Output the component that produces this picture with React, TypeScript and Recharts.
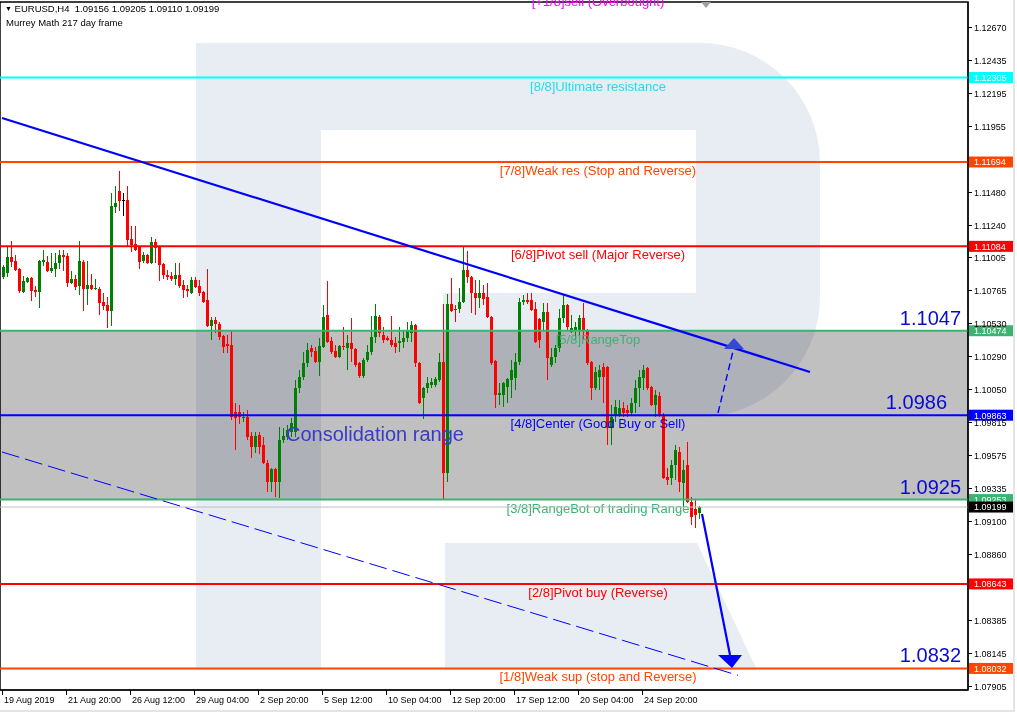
import React from 'react';
import {
  ComposedChart,
  Bar,
  XAxis,
  YAxis,
  ReferenceLine,
  ReferenceArea,
  ReferenceDot,
} from 'recharts';

// ---------- data ----------
const SYMBOL = 'EURUSD,H4';
const INDICATOR = 'Murrey Math 217 day frame';

const OPEN = [
  1.10862, 1.10891, 1.11006, 1.10978, 1.1092, 1.10754, 1.10826, 1.10855, 1.10768, 1.10754,
  1.10971, 1.10971, 1.10906, 1.1092, 1.10963, 1.11021, 1.11014, 1.10819, 1.10848, 1.10797,
  1.10971, 1.10775, 1.10804, 1.10775, 1.10775, 1.10682, 1.1066, 1.10616, 1.11368, 1.11484,
  1.11419, 1.11419, 1.11137, 1.11101, 1.11079, 1.10978, 1.11021, 1.10963, 1.11115, 1.11079,
  1.10956, 1.10877, 1.1087, 1.10848, 1.10877, 1.10804, 1.10775, 1.10746, 1.10841, 1.10797,
  1.10754, 1.10696, 1.10508, 1.10551, 1.10522, 1.10436, 1.10378, 1.10371, 1.09886, 1.09886,
  1.09843, 1.0985, 1.09713, 1.09633, 1.0972, 1.09647, 1.09518, 1.0938, 1.09474, 1.0938,
  1.09684, 1.09705, 1.09742, 1.09742, 1.1006, 1.10139, 1.10241, 1.10349, 1.10327, 1.10248,
  1.10356, 1.10587, 1.104, 1.10327, 1.10284, 1.10363, 1.10349, 1.10385, 1.10342, 1.10241,
  1.10147, 1.10262, 1.1032, 1.10429, 1.10573, 1.10443, 1.10421, 1.10407, 1.10385, 1.10385,
  1.10392, 1.10421, 1.10458, 1.10515, 1.10241, 1.09987, 1.1006, 1.10082, 1.10082, 1.10118,
  1.10248, 1.09445, 1.10667, 1.10631, 1.10631, 1.10682, 1.10913, 1.10862, 1.10746, 1.10711,
  1.10746, 1.10718, 1.10573, 1.10255, 1.10009, 1.10009, 1.10067, 1.10118, 1.10132, 1.10248,
  1.10682, 1.10696, 1.10696, 1.10631, 1.10558, 1.10537, 1.10609, 1.10226, 1.10284, 1.10349,
  1.10566, 1.1066, 1.10465, 1.10479, 1.10479, 1.10566, 1.10479, 1.10248, 1.1006, 1.10139,
  1.10212, 1.10212, 1.09771, 1.09865, 1.09865, 1.09915, 1.09901, 1.09879, 1.09951, 1.1006,
  1.10132, 1.10204, 1.10067, 1.09937, 1.10002, 1.09865, 1.09416, 1.09409, 1.09503, 1.09597,
  1.09373, 1.09503, 1.09236, 1.09185, 1.09156,
];
const HIGH = [
  1.10949, 1.11079, 1.11123, 1.11021, 1.10927, 1.1087, 1.10862, 1.10862, 1.10797, 1.10985,
  1.11057, 1.11014, 1.11036, 1.11036, 1.11057, 1.11057, 1.11036, 1.10906, 1.10877, 1.11123,
  1.10985, 1.10978, 1.10884, 1.10848, 1.1079, 1.10746, 1.10718, 1.1147, 1.1152, 1.11629,
  1.1147, 1.1152, 1.11231, 1.11231, 1.11087, 1.11043, 1.11028, 1.11152, 1.11137, 1.11087,
  1.10963, 1.10913, 1.10898, 1.10963, 1.10963, 1.10841, 1.10804, 1.10862, 1.10862, 1.10841,
  1.10761, 1.1092, 1.10573, 1.10573, 1.10537, 1.10443, 1.10443, 1.10479, 1.09951, 1.09937,
  1.09886, 1.09901, 1.09742, 1.09742, 1.09742, 1.09705, 1.09539, 1.09482, 1.09482, 1.09778,
  1.09771, 1.09792, 1.09843, 1.10118, 1.1019, 1.1032, 1.10385, 1.10371, 1.10356, 1.10421,
  1.1066, 1.10834, 1.10429, 1.10371, 1.10371, 1.10501, 1.10443, 1.10566, 1.10349, 1.10248,
  1.10277, 1.10371, 1.1058, 1.10667, 1.10587, 1.10501, 1.10436, 1.1058, 1.10429, 1.10501,
  1.10479, 1.10537, 1.10544, 1.10522, 1.10248, 1.10067, 1.10139, 1.10132, 1.10139, 1.10313,
  1.10667, 1.10739, 1.10855, 1.1066, 1.10783, 1.11079, 1.1105, 1.1087, 1.10841, 1.10841,
  1.10804, 1.10819, 1.1058, 1.10262, 1.10096, 1.10103, 1.10132, 1.10262, 1.10313, 1.10711,
  1.10732, 1.10746, 1.10746, 1.10682, 1.10566, 1.10674, 1.10674, 1.10349, 1.10371, 1.10631,
  1.10732, 1.10667, 1.10587, 1.10537, 1.10587, 1.10674, 1.10486, 1.10255, 1.10212, 1.10226,
  1.10241, 1.10219, 1.09937, 1.09973, 1.09973, 1.09958, 1.09937, 1.09987, 1.10118, 1.1019,
  1.10226, 1.10212, 1.10074, 1.10045, 1.10031, 1.09879, 1.09482, 1.09539, 1.09647, 1.09633,
  1.09539, 1.09669, 1.09272, 1.0925, 1.09205,
];
const LOW = [
  1.10848, 1.10862, 1.10934, 1.10906, 1.10746, 1.10746, 1.10819, 1.10689, 1.10718, 1.10638,
  1.10942, 1.10898, 1.10891, 1.10862, 1.1092, 1.10906, 1.1079, 1.10812, 1.10768, 1.10732,
  1.10616, 1.1066, 1.10768, 1.10768, 1.10587, 1.10624, 1.10494, 1.10508, 1.11325, 1.11339,
  1.11303, 1.11087, 1.11043, 1.1105, 1.1092, 1.10963, 1.10956, 1.10956, 1.10963, 1.10834,
  1.10848, 1.10841, 1.10834, 1.10804, 1.10783, 1.10711, 1.10718, 1.10739, 1.10783, 1.10725,
  1.10674, 1.10501, 1.10407, 1.10458, 1.10407, 1.10313, 1.10313, 1.09828, 1.09611, 1.098,
  1.09814, 1.09684, 1.09554, 1.0959, 1.09583, 1.0951, 1.09308, 1.09308, 1.09272, 1.09264,
  1.09662, 1.09684, 1.09705, 1.09705, 1.10024, 1.10118, 1.10212, 1.10284, 1.10241, 1.10147,
  1.10349, 1.10385, 1.10305, 1.10277, 1.10277, 1.10334, 1.1019, 1.10248, 1.10212, 1.10132,
  1.10132, 1.10248, 1.10298, 1.10385, 1.10429, 1.10385, 1.104, 1.10356, 1.10313, 1.1032,
  1.10349, 1.10392, 1.10392, 1.10212, 1.09944, 1.09836, 1.10024, 1.1006, 1.10067, 1.10103,
  1.0925, 1.0938, 1.10609, 1.10537, 1.10602, 1.10674, 1.10819, 1.10602, 1.10587, 1.10638,
  1.1066, 1.10566, 1.10226, 1.09915, 1.09937, 1.09922, 1.09951, 1.09987, 1.10045, 1.10226,
  1.1066, 1.10667, 1.10616, 1.10385, 1.10349, 1.10479, 1.10118, 1.10212, 1.10241, 1.1032,
  1.1053, 1.10479, 1.10458, 1.10407, 1.10356, 1.10407, 1.10226, 1.09973, 1.10045, 1.10045,
  1.09951, 1.09647, 1.09647, 1.09814, 1.0985, 1.0985, 1.0985, 1.09865, 1.09879, 1.09922,
  1.10045, 1.10045, 1.0993, 1.0985, 1.0985, 1.09402, 1.09358, 1.09358, 1.09395, 1.09308,
  1.09199, 1.09228, 1.09069, 1.09048, 1.0911,
];
const CLOSE = [
  1.10934, 1.11006, 1.10971, 1.10913, 1.10761, 1.10834, 1.10855, 1.10761, 1.10754, 1.10978,
  1.10985, 1.10906, 1.10927, 1.10963, 1.11021, 1.11006, 1.10819, 1.10848, 1.1079, 1.10978,
  1.10775, 1.10804, 1.10775, 1.10783, 1.10674, 1.10653, 1.10616, 1.11376, 1.11397, 1.11412,
  1.11419, 1.1113, 1.11094, 1.11057, 1.10971, 1.11021, 1.10963, 1.11115, 1.11072, 1.10949,
  1.10877, 1.10862, 1.10848, 1.10877, 1.10797, 1.10768, 1.10761, 1.10841, 1.1079, 1.10746,
  1.10682, 1.10508, 1.10551, 1.10522, 1.10429, 1.10356, 1.10363, 1.0985, 1.09843, 1.0985,
  1.0985, 1.09705, 1.09633, 1.09713, 1.09633, 1.09518, 1.0938, 1.09474, 1.0938, 1.09684,
  1.09713, 1.09756, 1.09807, 1.1006, 1.10139, 1.10241, 1.10334, 1.1032, 1.10248, 1.10363,
  1.10573, 1.10392, 1.1032, 1.10284, 1.10363, 1.10356, 1.10385, 1.10342, 1.10226, 1.10147,
  1.10262, 1.1032, 1.10429, 1.1058, 1.10458, 1.10407, 1.10407, 1.10371, 1.10356, 1.104,
  1.10421, 1.10479, 1.10515, 1.10241, 1.09951, 1.1006, 1.10096, 1.10103, 1.10125, 1.10248,
  1.09445, 1.10667, 1.10616, 1.10624, 1.10682, 1.10913, 1.10862, 1.10746, 1.10711, 1.10746,
  1.10703, 1.10573, 1.10241, 1.10009, 1.10024, 1.10096, 1.10125, 1.1019, 1.10248, 1.10682,
  1.10696, 1.10682, 1.10624, 1.10392, 1.10407, 1.10609, 1.10277, 1.10284, 1.10349, 1.10566,
  1.1066, 1.10501, 1.10494, 1.10501, 1.10566, 1.10479, 1.10241, 1.1006, 1.10176, 1.1019,
  1.10139, 1.09771, 1.0985, 1.09922, 1.09915, 1.09879, 1.09879, 1.09951, 1.1006, 1.10139,
  1.1019, 1.1006, 1.09937, 1.10009, 1.09865, 1.09409, 1.09395, 1.09503, 1.09611, 1.0938,
  1.09467, 1.09236, 1.09127, 1.09142, 1.09199,
];

// bar slots visible in the window (the rest is empty space on the right)
const SLOT_COUNT = 242;

const TIME_TICK_BARS = [0, 16, 32, 48, 64, 80, 96, 112, 128, 144, 160];
const TIME_TICK_LABELS = [
  '19 Aug 2019', '21 Aug 20:00', '26 Aug 12:00', '29 Aug 04:00', '2 Sep 20:00',
  '5 Sep 12:00', '10 Sep 04:00', '12 Sep 20:00', '17 Sep 12:00', '20 Sep 04:00', '24 Sep 20:00',
];

const PRICE_TICKS = [
  1.1267, 1.12435, 1.12195, 1.11955, 1.1148, 1.1124, 1.11005, 1.10765, 1.1053, 1.1029,
  1.1005, 1.09815, 1.09575, 1.09335, 1.091, 1.0886, 1.08385, 1.08145, 1.07905,
];
const PRICE_DOMAIN: [number, number] = [1.07876, 1.12851];

// Murrey Math levels
const LEVEL_VALUES = [1.12915, 1.12305, 1.11694, 1.11084, 1.10474, 1.09863, 1.09253, 1.08643, 1.08032];
const LEVEL_NAMES = [
  '[+1/8]sell (Overbought)',
  '[8/8]Ultimate resistance',
  '[7/8]Weak res (Stop and Reverse)',
  '[6/8]Pivot sell (Major Reverse)',
  '[5/8]RangeTop',
  '[4/8]Center (Good Buy or Sell)',
  '[3/8]RangeBot of trading Range',
  '[2/8]Pivot buy (Reverse)',
  '[1/8]Weak sup (stop and Reverse)',
];
const LEVEL_NOTES = ['', '', '', '', '1.1047', '1.0986', '1.0925', '', '1.0832'];
const NAME_BAR = 149;

// hand-drawn analysis: [bar, price] end points
const RESISTANCE_LINE: [number, number][] = [[0, 1.12012], [202, 1.10176]];
const SUPPORT_LINE: [number, number][] = [[0, 1.09597], [184, 1.07982]];
const UP_SCENARIO: [number, number][] = [[179, 1.09879], [183, 1.10356]];
const DOWN_SCENARIO: [number, number][] = [[175, 1.09149], [182, 1.08129]];
const RANGE_NOTE = { bar: 71, price: 1.09677, text: 'Consolidation range' };

// ---------- styles ----------
const FONT = '"Liberation Sans", Arial, sans-serif';
const BULL = '#008000';
const BEAR = '#ff0000';
const LEVEL_LINE_COLORS = ['#ff00ff', '#00ffff', '#ff4500', '#ff0000', '#3cb371', '#0000ff', '#3cb371', '#ff0000', '#ff4500'];
const LEVEL_TEXT_COLORS = ['#ff00ff', '#2ad8ee', '#ff4500', '#ff0000', '#3cb371', '#0000ff', '#3cb371', '#ff0000', '#ff4500'];
// distance of the big level notes from the right edge of the plot
const NOTE_INSET = [0, 0, 0, 0, 7, 21, 7, 0, 7];
const NOTE_COLOR = '#0a0ad0';
const LOGO_FILL = '#e8ecf3';
// watermark bounding box in bar / price units
const LOGO_BOX = { x1: 49, x2: 204, y1: 1.08021, y2: 1.12555 };

const rows = Array.from({ length: SLOT_COUNT }, (_, i) => ({
  i,
  o: OPEN[i],
  h: HIGH[i],
  l: LOW[i],
  c: CLOSE[i],
}));

const LAST = OPEN.length - 1;
const LAST_PRICE = CLOSE[LAST];

function Candle(props: any) {
  const { x, y, width, height } = props;
  const d = props.payload || {};
  if (d.o == null || x == null) return null;
  const top = Math.min(y, y + height);
  const span = Math.abs(height);
  const k = d.h > d.l ? span / (d.h - d.l) : 0;
  const yOf = (v: number) => top + (d.h - v) * k;
  const cx = Math.round(x + width / 2);
  const color = d.c > d.o ? BULL : d.c < d.o ? BEAR : '#000000';
  const bTop = Math.round(yOf(Math.max(d.o, d.c)));
  const bBot = Math.round(yOf(Math.min(d.o, d.c)));
  const wTop = Math.round(top);
  const wBot = Math.round(top + span);
  return (
    <g>
      <rect x={cx} y={wTop} width={1} height={Math.max(1, wBot - wTop)} fill={color} />
      <rect x={cx - 1} y={bTop} width={3} height={Math.max(1, bBot - bTop)} fill={color} />
    </g>
  );
}

function TimeTick(props: any) {
  const { x, y, payload } = props;
  const k = TIME_TICK_BARS.indexOf(payload.value);
  if (k < 0) return null;
  const px = Math.round(x) + 0.5;
  return (
    <g>
      <line x1={px} x2={px} y1={y} y2={y + 5} stroke="#000" strokeWidth={1} />
      <text x={px + 1.5} y={y + 13} fontSize={9} fontFamily={FONT} fill="#000">
        {TIME_TICK_LABELS[k]}
      </text>
    </g>
  );
}

function PriceTick(props: any) {
  const { x, y, payload } = props;
  const py = Math.round(y) + 0.5;
  return (
    <g>
      <line x1={x} x2={x + 4} y1={py} y2={py} stroke="#000" strokeWidth={1} />
      <text x={x + 6} y={py + 3.2} fontSize={9} fontFamily={FONT} fill="#000">
        {Number(payload.value).toFixed(5)}
      </text>
    </g>
  );
}

function LevelLabel(props: any) {
  const vb = props.viewBox || {};
  const { x = 0, y = 0, width = 0 } = vb;
  const { idx, value, box, textColor } = props;
  const right = x + width;
  const nameX = x + ((NAME_BAR + 0.5) * width) / SLOT_COUNT;
  const name = idx != null ? LEVEL_NAMES[idx] : '';
  const note = idx != null ? LEVEL_NOTES[idx] : '';
  return (
    <g>
      <rect x={right + 1} y={y - 5.5} width={44} height={11} fill={box} />
      <text x={right + 6} y={y + 3.3} fontSize={9} fontFamily={FONT} fill="#fff">
        {value.toFixed(5)}
      </text>
      {name ? (
        <text x={nameX} y={y + 13} textAnchor="middle" fontSize={13} fontFamily={FONT} fill={textColor}>
          {name}
        </text>
      ) : null}
      {note ? (
        <text x={right - NOTE_INSET[idx]} y={y - 6} textAnchor="end" fontSize={20} fontFamily={FONT} fill={NOTE_COLOR}>
          {note}
        </text>
      ) : null}
    </g>
  );
}

function Logo(props: any) {
  const { x, y, width, height } = props;
  if (x == null || !width) return null;
  const sx = width / 624;
  const sy = height / 627;
  const P = (px: number, py: number) => `${x + px * sx},${y + py * sy}`;
  const rx = 120 * sx;
  const ry = 120 * sy;
  const bowl =
    `M${P(0, 0)} L${P(504, 0)} A${rx},${ry} 0 0 1 ${P(624, 120)} L${P(624, 254)} ` +
    `A${rx},${ry} 0 0 1 ${P(504, 374)} L${P(247, 374)} L${P(247, 250)} L${P(500, 250)} ` +
    `L${P(500, 87)} L${P(125, 87)} L${P(125, 627)} L${P(0, 627)} Z`;
  const leg = `M${P(249, 500)} L${P(501, 500)} L${P(561, 627)} L${P(249, 627)} Z`;
  return (
    <g style={{ mixBlendMode: 'multiply' }}>
      <path d={bowl} fill={LOGO_FILL} />
      <path d={leg} fill={LOGO_FILL} />
    </g>
  );
}

function UpHead(props: any) {
  const { cx, cy } = props;
  if (cx == null) return null;
  return <polygon points={`${cx - 10},${cy} ${cx + 10},${cy} ${cx},${cy - 11}`} fill="#3448d8" />;
}

function DownHead(props: any) {
  const { cx, cy } = props;
  if (cx == null) return null;
  return <polygon points={`${cx - 12},${cy} ${cx + 12},${cy} ${cx + 2},${cy + 13}`} fill="#0000ff" />;
}

function NoteText(props: any) {
  const { cx, cy } = props;
  if (cx == null) return null;
  return (
    <text x={cx} y={cy} fontSize={20} fontFamily={FONT} fill="#3a3ac8">
      {RANGE_NOTE.text}
    </text>
  );
}

const seg = (pts: [number, number][]) => pts.map(([b, p]) => ({ x: b, y: p }));

export default function App() {
  const last = [OPEN[LAST], HIGH[LAST], LOW[LAST], CLOSE[LAST]].map((v) => v.toFixed(5)).join(' ');
  return (
    <div
      style={{
        position: 'absolute',
        left: 0,
        top: 0,
        width: 1017,
        height: 714,
        background: '#fff',
        overflow: 'hidden',
        fontFamily: FONT,
      }}
    >
      <ComposedChart width={1017} height={714} data={rows} margin={{ top: 2, right: 0, bottom: 0, left: 0 }}>
        <XAxis
          dataKey="i"
          type="category"
          interval={0}
          height={24}
          tickLine={false}
          tickSize={0}
          tickMargin={0}
          axisLine={{ stroke: '#000' }}
          tick={<TimeTick />}
        />
        <YAxis
          orientation="right"
          type="number"
          width={49}
          domain={PRICE_DOMAIN}
          allowDataOverflow
          ticks={PRICE_TICKS}
          interval={0}
          tickLine={false}
          tickSize={0}
          tickMargin={0}
          axisLine={{ stroke: '#000' }}
          tick={<PriceTick />}
        />
        <ReferenceArea
          x1={0}
          x2={SLOT_COUNT - 1}
          y1={LEVEL_VALUES[6]}
          y2={LEVEL_VALUES[4]}
          fill="#c0c0c0"
          fillOpacity={1}
          stroke="none"
        />
        <ReferenceArea x1={LOGO_BOX.x1} x2={LOGO_BOX.x2} y1={LOGO_BOX.y1} y2={LOGO_BOX.y2} shape={<Logo />} />
        <Bar
          dataKey={(d: any) => (d.o == null ? null : [d.l, d.h])}
          barSize={3}
          isAnimationActive={false}
          shape={<Candle />}
        />
        {LEVEL_VALUES.map((v, idx) => (
          <ReferenceLine
            key={v}
            y={v}
            stroke={LEVEL_LINE_COLORS[idx]}
            strokeWidth={2}
            ifOverflow="visible"
            label={<LevelLabel idx={idx} value={v} box={LEVEL_LINE_COLORS[idx]} textColor={LEVEL_TEXT_COLORS[idx]} />}
          />
        ))}
        <ReferenceLine
          y={LAST_PRICE}
          stroke="#c0c0c0"
          strokeWidth={1}
          label={<LevelLabel value={LAST_PRICE} box="#000000" />}
        />
        <ReferenceLine segment={seg(RESISTANCE_LINE)} stroke="#0000ff" strokeWidth={2.2} ifOverflow="visible" />
        <ReferenceLine
          segment={seg(SUPPORT_LINE)}
          stroke="#0000ff"
          strokeWidth={1}
          strokeDasharray="18 6"
          ifOverflow="visible"
        />
        <ReferenceLine
          segment={seg(UP_SCENARIO)}
          stroke="#0000ff"
          strokeWidth={1.4}
          strokeDasharray="7 4"
          ifOverflow="visible"
        />
        <ReferenceLine segment={seg(DOWN_SCENARIO)} stroke="#0000ff" strokeWidth={2.2} ifOverflow="visible" />
        <ReferenceDot x={UP_SCENARIO[1][0]} y={UP_SCENARIO[1][1] - 0.00015} shape={<UpHead />} ifOverflow="visible" />
        <ReferenceDot x={DOWN_SCENARIO[1][0]} y={DOWN_SCENARIO[1][1]} shape={<DownHead />} ifOverflow="visible" />
        <ReferenceDot x={RANGE_NOTE.bar} y={RANGE_NOTE.price} shape={<NoteText />} ifOverflow="visible" />
        <ReferenceArea
          x1={0}
          x2={SLOT_COUNT - 1}
          y1={PRICE_DOMAIN[0]}
          y2={PRICE_DOMAIN[1]}
          fill="none"
          stroke="#000"
          strokeWidth={1.5}
        />
      </ComposedChart>

      {/* chart window caption */}
      <div style={{ position: 'absolute', left: 5, top: 3, fontSize: 9.5, lineHeight: '12px', color: '#000', whiteSpace: 'pre' }}>
        <span style={{ fontSize: 7, verticalAlign: 1 }}>▼</span>
        {` ${SYMBOL}  ${last}`}
      </div>
      <div style={{ position: 'absolute', left: 6, top: 17, fontSize: 9.5, lineHeight: '12px', color: '#000', whiteSpace: 'pre' }}>
        {INDICATOR}
      </div>
      {/* shift marker */}
      <div
        style={{
          position: 'absolute',
          left: 701,
          top: 2,
          width: 0,
          height: 0,
          borderLeft: '5px solid transparent',
          borderRight: '5px solid transparent',
          borderTop: '6px solid #a0a0a0',
        }}
      />
      {/* window edge */}
      <div style={{ position: 'absolute', left: 1013, top: 0, width: 2, height: 712, background: '#e1e5ea' }} />
      <div style={{ position: 'absolute', left: 0, top: 710, width: 1015, height: 2, background: '#e1e5ea' }} />
    </div>
  );
}
